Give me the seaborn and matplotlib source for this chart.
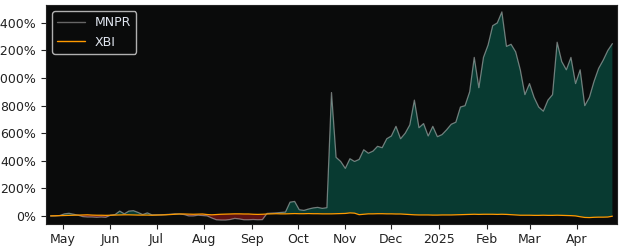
import numpy as np
import pandas as pd
import matplotlib
matplotlib.use("Agg")
import matplotlib.pyplot as plt
import matplotlib.dates as mdates
import matplotlib.ticker as mticker
import seaborn as sns

# ---- data (percent change since start, sampled every 3 calendar days) ----
start_date = "2024-04-23"
end_date = "2025-04-24"
dates = pd.date_range(start_date, end_date, freq="3D")

mnpr = [0, 0, 3, 15, 19, 12, 5, -5, -8, -8,
        -10, -8, -10, 5, 10, 35, 15, 35, 38, 25,
        10, 22, 8, 8, 8, 10, 12, 15, 14, 10,
        0, 0, 5, 3, 0, -15, -28, -30, -30, -26,
        -18, -22, -28, -28, -26, -28, -27, 18, 20, 22,
        25, 28, 100, 105, 45, 40, 50, 58, 62, 55,
        60, 895, 425, 395, 345, 415, 395, 410, 480, 455,
        470, 505, 495, 560, 580, 650, 560, 600, 660, 840,
        640, 670, 580, 650, 575, 590, 625, 665, 680, 790,
        800, 900, 1150, 930, 1150, 1240, 1380, 1400, 1480, 1230,
        1245, 1190, 1060, 880, 960, 860, 790, 760, 840, 880,
        1260, 1120, 1060, 1150, 960, 1060, 800, 860, 975, 1070,
        1130, 1200, 1250]

xbi = [0, 1, 2, 3, 4, 5, 6, 7, 8, 6,
       5, 5, 4, 5, 6, 7, 8, 8, 7, 6,
       6, 6, 5, 6, 7, 8, 10, 12, 14, 14,
       13, 12, 13, 14, 10, 8, 10, 12, 13, 14,
       15, 15, 14, 14, 12, 11, 12, 14, 15, 16,
       15, 15, 16, 17, 16, 16, 17, 16, 16, 15,
       15, 15, 16, 17, 18, 22, 20, 9, 12, 15,
       15, 16, 16, 15, 15, 14, 14, 12, 10, 8,
       7, 7, 7, 6, 6, 7, 7, 7, 8, 9,
       10, 11, 12, 11, 12, 12, 12, 11, 12, 11,
       9, 7, 5, 5, 5, 4, 4, 5, 4, 4,
       5, 4, 3, 2, 0, -6, -11, -12, -10, -9,
       -9, -8, -2]

series_names = ["MNPR", "XBI"]
y_ticks = [0, 200, 400, 600, 800, 1000, 1200, 1400]

df = pd.DataFrame({"date": dates, "MNPR": mnpr, "XBI": xbi})
long = df.melt(id_vars="date", var_name="ticker", value_name="pct")

sns.set_style("ticks")
plt.rcParams["font.family"] = ["DejaVu Sans"]

fig = plt.figure(figsize=(6.25, 2.5), dpi=100)
ax = fig.add_axes([0.0736, 0.106, 0.9136, 0.874])
ax.set_facecolor("#0a0b0b")

m = df["MNPR"].to_numpy(dtype=float)
x = df["XBI"].to_numpy(dtype=float)
ax.fill_between(df["date"], m, x, where=m >= x, interpolate=True,
                color="#083a31", linewidth=0, zorder=1)
ax.fill_between(df["date"], m, x, where=m < x, interpolate=True,
                color="#5e1212", linewidth=0, zorder=1)

sns.lineplot(data=long, x="date", y="pct", hue="ticker",
             palette={"MNPR": (1, 1, 1, 0.42), "XBI": "#ff9a00"},
             hue_order=series_names, linewidth=0.9, ax=ax, zorder=3,
             legend=False)

ax.set_xlim(pd.Timestamp("2024-04-20"), pd.Timestamp("2025-04-27"))
ax.set_ylim(-55, 1530)
ax.set_yticks(y_ticks)
ax.yaxis.set_major_formatter(mticker.FuncFormatter(lambda v, p: f"{int(v)}%"))

ax.xaxis.set_major_locator(mdates.MonthLocator())


def fmt(v, pos):
    d = mdates.num2date(v)
    return str(d.year) if d.month == 1 else d.strftime("%b")


ax.xaxis.set_major_formatter(mticker.FuncFormatter(fmt))
ax.tick_params(axis="both", labelsize=9, colors="#222222", length=3.5)
ax.set_xlabel("")
ax.set_ylabel("")
for s in ax.spines.values():
    s.set_color("#222222")
    s.set_linewidth(0.8)

from matplotlib.lines import Line2D
handles = [Line2D([0], [0], color="#666666", lw=1),
           Line2D([0], [0], color="#ff9a00", lw=1)]
leg = ax.legend(handles, series_names, loc="upper left", fontsize=9,
                facecolor="#0a0b0b", edgecolor="#b0b0b0", framealpha=1,
                labelcolor="#e0e6f0", handlelength=2.2,
                bbox_to_anchor=(0.0, 1.0), borderaxespad=0.5)
leg.get_frame().set_linewidth(1.0)

fig.savefig("out.png", dpi=100, facecolor="white")
